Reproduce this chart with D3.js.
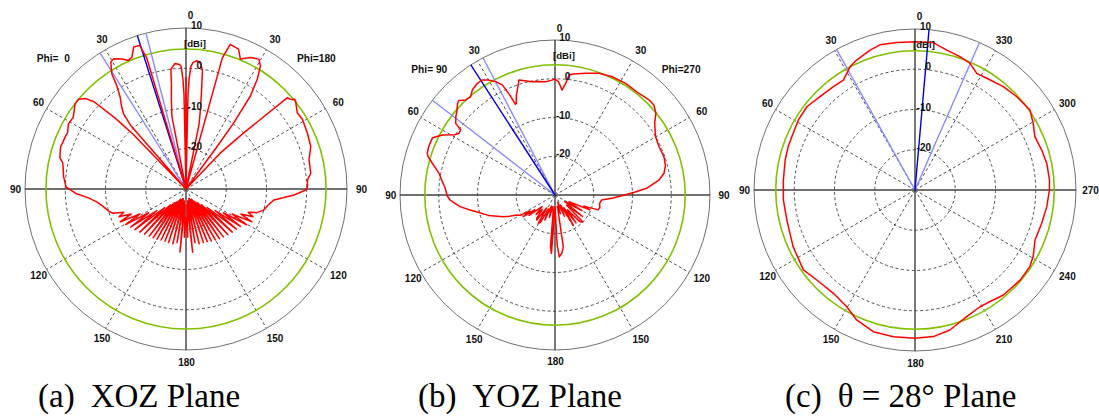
<!DOCTYPE html>
<html><head><meta charset="utf-8">
<script src="https://cdn.jsdelivr.net/npm/d3@7"></script>
<style>
html,body{margin:0;padding:0;background:#fff;}
svg{display:block;}
</style></head>
<body>
<svg id="chart" width="1099" height="419"></svg>
<script>
// ---------------- DATA ----------------
// Radial gain axis (dBi)
const ringValues = [-30, -20, -10, 0, 10];
const ringLabels = ["-20", "-10", "0", "10"];
const spokeAngles = [30, 60, 120, 150];

// (a) XOZ plane : display angle (deg, clockwise from top; left = Phi 0, right = Phi 180)
const anglesA = [-180,-178,-176.5,-174.5,-172.5,-170.5,-168.5,-166.5,-164.5,-162,-160,-158,-156,-154,-152,-150,-148,-146,-144,-142,-140,-137.5,-135.5,-133,-131,-128.5,-126.5,-124.5,-122.5,-120.5,-118.5,-116.5,-114.5,-112.5,-110.5,-108.5,-106.6,-102,-98,-95,-92.3,-89,-85.7,-84,-80,-78,-76,-71.5,-67,-64.5,-61,-57.6,-52.6,-50.2,-47.9,-46.5,-45,-44,-43,-42,-41,-39.8,-38,-35.7,-33.8,-32.8,-30.7,-29.1,-26.2,-24.1,-22.3,-20.2,-17.9,-16.7,-16.3,-12,-11.3,-11,-9.3,-7.9,-7.2,-5,-3,-2.3,-1.6,-1.2,-0.6,0,0.6,1.2,1.6,2.3,3.2,5,6.5,7.9,9.2,10.3,11.4,11.8,15.2,15.5,17,20.6,22.7,26.1,29.3,31.2,33,34.7,35.8,36.2,36.6,43,43.6,45.8,48,49.4,50.4,51.3,55.6,59.2,65.2,71.2,76.7,82.8,85.7,88.9,90.5,93.2,97.2,101,105.2,108.5,110.5,112.5,114.5,116.5,118.5,120.5,122.5,124.5,126.5,128.5,131,133,135.5,137.5,140,142,144,146,148,150,152,154,156,158,160,162,164.5,166.5,168.5,170.5,172.5,174,176.5,178,180];
const gainA = [-23,-18,-26,-14.3,-27,-16.5,-27,-16,-27.5,-16,-27.5,-16,-27,-15.9,-27,-15.6,-26.5,-15.4,-26,-15.2,-25.5,-14.8,-24.5,-14.3,-23,-13.8,-21,-13.3,-19,-12.6,-17,-11.8,-15,-12,-13.5,-11,-10.2,-9,-7.5,-5.5,-2.6,-0.2,0.3,0.6,1.0,1.3,2.3,2.85,2.7,2.6,3.4,3.2,4.7,4.8,3.5,1.5,-5,-11,-30,-30,-9,-5.8,-4,-2,0.9,4.0,6.6,7.0,6.0,5.0,5.4,7.6,7.5,4.1,-30,-30,-30,-11.7,-7.5,-3.7,0,1.3,1.0,0.5,-2.7,-6.5,-30,-2.3,-30,-6.5,-2.7,0.5,1.5,2.0,1.5,-0.3,-6.1,-10,-13.6,-30,-30,3.8,7.6,7.1,5.0,6.4,7.0,5.7,2.5,-1.9,-9.8,-16.9,-30,-30,-17.7,-10,3.9,4.2,5.0,4.9,3.5,3.7,3.2,2.75,1.4,1.25,0.25,0.2,-0.25,-3.1,-8,-9.2,-10,-11.5,-13.5,-12,-15,-11.7,-17,-12.5,-19,-13.6,-21,-14,-23,-14.3,-24.5,-14.6,-25.5,-14.9,-26,-15.1,-26.5,-15.4,-27,-15.6,-27,-15.9,-27.5,-16,-27.5,-16,-27,-16.5,-27,-14.2,-26,-18,-23];
const beamA = {main: -17.6, lo: -32.3, hi: -14.4};
const refGainA = 4.8;

// (b) YOZ plane : left = Phi 90, right = Phi 270
const anglesB = [-180,-178,-176.5,-175,-173.5,-170,-166,-162,-158,-155,-152,-149.5,-147,-144,-141.8,-139,-136,-132,-128,-126,-124.4,-122.5,-120,-117.6,-115,-112.8,-107,-102,-100,-97,-93,-90.5,-86,-82.5,-79.4,-78,-75.5,-73.2,-71.9,-69,-65,-62,-59,-57.3,-55.3,-54.2,-51.7,-49,-46.8,-45.5,-43.2,-40.7,-38.2,-34.8,-32.4,-29.9,-27.6,-25.6,-24.3,-23.6,-22.9,-21.3,-19.7,-17.4,-14,-11.3,-8,-4.7,-2,0,1.7,3,3.8,4.6,5.5,6.7,8.6,14.2,19.9,25.8,32.3,39.6,44.7,47.7,51,54,57,59.9,65.1,70.6,75,78.7,81.8,85.8,88,90,93,96,101,105,109,111,113,116,120,124,128,131,134,137,140,143,146,148.6,152,156,160,164,168,170.9,173,176,177.5,179,180];
const gainB = [-27,-24,-14.9,-16.6,-26,-27,-24,-27,-23,-26,-22,-21.5,-26,-22,-22.4,-25,-23,-25.5,-21.5,-23.5,-20.1,-22.3,-19.5,-18.9,-17,-15.5,-12,-9.3,-7.7,-5.3,-3,-2.2,-1.5,-0.5,0.45,1.2,2.7,4.2,4.7,4.9,4.9,2.95,0.2,-0.55,-0.4,1.6,2.6,3.5,4.5,4.8,3.65,3.4,4.5,5.1,5.15,4.2,3.0,1.5,-1.8,-4.5,-4.3,-2.5,-1.2,1.1,0.3,-0.2,-0.4,-0.65,-0.4,-0.1,-0.7,-2,-2.85,-2,-1,1.2,1.6,2.4,3.4,3.9,4.1,4.0,4.5,4.5,3.5,1.8,0.8,0.0,-0.4,-0.2,-0.5,-1.3,-2.9,-6.3,-9.5,-12,-15,-17.9,-18.3,-18,-18.2,-22,-20.2,-26,-22,-27,-21,-26,-20,-20.6,-25,-21,-26,-20.9,-27,-24,-28,-25,-27,-16.5,-15,-14,-17,-26,-27];
const beamB = {main: -32.9, lo: -52.3, hi: -27.7};
const refGainB = 3.6;

// (c) theta = 28 deg plane : phi (deg, counter-clockwise from top)
const phiC = [0,7.1,13.6,17.8,24.2,27.8,33.1,38.3,45.5,52.4,59,65,71.1,77,85.7,94.3,103.2,115,125.6,132.5,141.7,149.7,155.8,163.6,171.6,180,187.1,194,202.2,209.1,212.3,220.1,229.4,236.3,240.6,247.4,255.3,262.8,270,274.3,281.5,287.5,294,299.4,304.8,312.5,319.5,327.3,332.1,336.5,341.4,347.2,352.9,360];
const gainC = [6.85,6.9,7.1,6.5,5.4,4.6,2.6,2.7,3.1,3.9,3.8,3.4,3.3,3.1,2.8,2.8,2.7,3.4,4.1,3.1,2.7,3.6,5.4,6.7,6.85,6.85,6.7,5.85,4.0,3.2,3.3,4.1,4.4,4.3,3.7,2.3,2.55,3.0,3.4,3.5,3.4,3.0,2.6,3.7,4.8,4.3,3.8,3.0,2.8,4.3,4.95,5.65,6.9,6.85];
const beamC = {main: 355, lo: 29.2, hi: 336.4};
const refGainC = 4.6;

const sideLabelsAB = [["30","30"],["60","60"],["90","90"],["120","120"],["150","150"]];
const sideLabelsC  = [["30","330"],["60","300"],["90","270"],["120","240"],["150","210"]];
const captions = [["(a)", "XOZ Plane"], ["(b)", "YOZ Plane"], ["(c)", "θ = 28° Plane"]];

// ---------------- DRAW ----------------
const svg = d3.select("#chart");
const rad = d => d * Math.PI / 180;
const labelFont = "'Liberation Sans', Arial, sans-serif";

function panel(p) {
  const g = svg.append("g").attr("transform", `translate(${p.cx},${p.cy})`);
  const R = p.R;
  const r = d3.scaleLinear().domain([-30, 10]).range([0, R]).clamp(true);
  const pt = (ang, rr) => [rr * Math.sin(rad(ang)), -rr * Math.cos(rad(ang))];

  // dashed rings
  g.selectAll("circle.ring").data(ringValues.slice(1, -1)).join("circle")
    .attr("r", d => r(d)).attr("fill", "none")
    .attr("stroke", "#3a3a3a").attr("stroke-width", 0.9).attr("stroke-dasharray", "3,2.5");
  // dashed spokes
  const spokes = spokeAngles.flatMap(a => [a, -a]);
  g.selectAll("line.spoke").data(spokes).join("line")
    .attr("x1", 0).attr("y1", 0)
    .attr("x2", d => pt(d, R)[0]).attr("y2", d => pt(d, R)[1])
    .attr("stroke", "#3a3a3a").attr("stroke-width", 0.9).attr("stroke-dasharray", "3,2.5");
  // outer circle
  g.append("circle").attr("r", r(10)).attr("fill", "none").attr("stroke", "#707070").attr("stroke-width", 1);
  // axes
  g.append("line").attr("x1", -R).attr("x2", R).attr("y1", 0).attr("y2", 0).attr("stroke", "#404040").attr("stroke-width", 1.3);
  g.append("line").attr("x1", 0).attr("x2", 0).attr("y1", -R).attr("y2", R).attr("stroke", "#303030").attr("stroke-width", 1.3);

  // reference gain circle
  g.append("circle").attr("r", r(p.ref)).attr("fill", "none").attr("stroke", "#80c000").attr("stroke-width", 1.6);

  // beam lines
  const beam = [[p.beam.lo, "#8a8aff"], [p.beam.hi, "#8a8aff"], [p.beam.main, "#0000e6"]];
  g.selectAll("line.beam").data(beam).join("line")
    .attr("x1", 0).attr("y1", 0)
    .attr("x2", d => pt(d[0], R)[0]).attr("y2", d => pt(d[0], R)[1])
    .attr("stroke", d => d[1]).attr("stroke-width", 1.4);

  // pattern
  const pts = p.angles.map((a, i) => ({a, v: p.gain[i]}));
  const line = d3.lineRadial().angle(d => rad(d.a)).radius(d => r(d.v));
  g.append("path").attr("d", line(pts)).attr("fill", "none")
    .attr("stroke", "#ff0000").attr("stroke-width", 1.5).attr("stroke-linejoin", "round");

  // angle labels
  const LR = R * 1.075, dx = 2.5;
  const lab = (txt, ang, extra) => {
    const [x, y] = pt(ang, LR);
    g.append("text").attr("x", x + dx + (extra || 0)).attr("y", y)
      .attr("text-anchor", "middle").attr("dominant-baseline", "central")
      .attr("font-family", labelFont).attr("font-weight", "bold").attr("font-size", 10)
      .attr("fill", "#111").text(txt);
  };
  lab("0", 0, 2);
  lab("180", 180, -2);
  p.side.forEach((s, i) => { lab(s[0], -(i + 1) * 30); lab(s[1], (i + 1) * 30); });

  // ring labels
  const sc = R / 161;
  g.selectAll("text.ringlab").data(ringLabels).join("text")
    .attr("x", 16 * sc).attr("y", d => -r(+d) + 1)
    .attr("text-anchor", "end")
    .attr("font-family", labelFont).attr("font-weight", "bold").attr("font-size", 10)
    .attr("fill", "#111").text(d => d);
  g.append("text").attr("x", -2).attr("y", -R + 18.5)
    .attr("font-family", labelFont).attr("font-weight", "bold").attr("font-size", 9.6)
    .attr("fill", "#111").text("[dBi]");

  // phi labels
  if (p.phi) {
    g.append("text").attr("x", -0.927 * R).attr("y", -0.786 * R)
      .attr("font-family", labelFont).attr("font-weight", "bold").attr("font-size", 10.2).attr("fill", "#111")
      .text(p.phi[0]);
    g.append("text").attr("x", 0.689 * R).attr("y", -0.786 * R)
      .attr("font-family", labelFont).attr("font-weight", "bold").attr("font-size", 10.2).attr("fill", "#111")
      .text(p.phi[1]);
  }
}

panel({cx: 186, cy: 189, R: 161, angles: anglesA, gain: gainA, beam: beamA, ref: refGainA,
       side: sideLabelsAB, phi: ["Phi=  0", "Phi=180"]});
panel({cx: 555, cy: 195, R: 155, angles: anglesB, gain: gainB, beam: beamB, ref: refGainB,
       side: sideLabelsAB, phi: ["Phi= 90", "Phi=270"]});
panel({cx: 915, cy: 190, R: 161, angles: phiC.map(d => -d), gain: gainC,
       beam: {main: -beamC.main, lo: -beamC.lo, hi: -beamC.hi}, ref: refGainC,
       side: sideLabelsC, phi: null});

// keep spaces in labels
svg.selectAll("text").attr("xml:space", "preserve").style("white-space", "pre");

// captions
const capX = [38, 418, 785];
captions.forEach((c, i) => {
  const t = svg.append("text").attr("x", capX[i]).attr("y", 407)
    .attr("font-family", "'Liberation Serif', 'Times New Roman', serif").attr("font-size", 33)
    .attr("fill", "#000");
  t.append("tspan").text(c[0]);
  t.append("tspan").attr("dx", 16).text(c[1]);
});
</script>
</body></html>
